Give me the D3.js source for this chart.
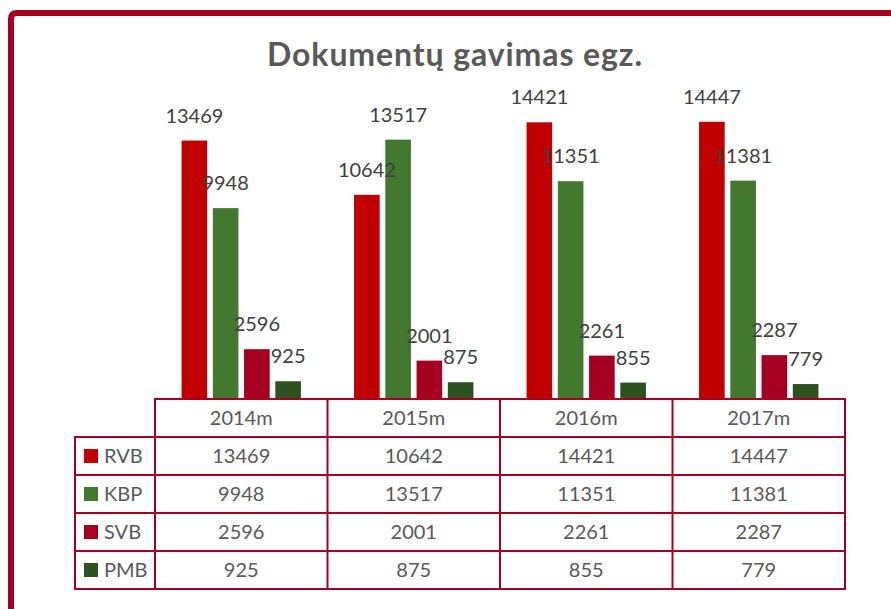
<!DOCTYPE html>
<html>
<head>
<meta charset="utf-8">
<script src="https://cdn.jsdelivr.net/npm/d3@7"></script>
<style>
  body { margin: 0; background: #fff; }
  text { font-family: Lato, "Open Sans", sans-serif; }
</style>
</head>
<body>
<div id="chart"></div>
<script>
const years = ["2014m", "2015m", "2016m", "2017m"];
const seriesNames = ["RVB", "KBP", "SVB", "PMB"];
const rvb = [13469, 10642, 14421, 14447];
const kbp = [9948, 13517, 11351, 11381];
const svb = [2596, 2001, 2261, 2287];
const pmb = [925, 875, 855, 779];
const colors = ["#C00000", "#43782F", "#A50021", "#2E5120"];

const values = [rvb, kbp, svb, pmb];
const width = 891, height = 609;
const dark = "#A50021";

const svg = d3.select("#chart").append("svg")
    .attr("width", width)
    .attr("height", height);

// frame: only top and left edges show
svg.append("path")
    .attr("d", "M11,609 V19 Q11,13 17,13 H891")
    .attr("fill", "none")
    .attr("stroke", dark)
    .attr("stroke-width", 6);

svg.append("text")
    .attr("x", 455)
    .attr("y", 66)
    .attr("text-anchor", "middle")
    .attr("font-size", 32)
    .attr("font-weight", "bold")
    .attr("letter-spacing", 0.9)
    .attr("fill", "#595959")
    .text("Dokumentų gavimas egz.");

const x0 = d3.scaleBand().domain(years).range([155, 845]);
const x1 = d3.scaleBand().domain(seriesNames).range([0, x0.bandwidth()])
    .paddingInner(0.18).paddingOuter(0.85);
const y = d3.scaleLinear().domain([0, 16000]).range([399, 92]);

const bars = [];
seriesNames.forEach((s, i) => {
    years.forEach((yr, j) => {
        bars.push({ series: s, year: yr, value: values[i][j], color: colors[i] });
    });
});

svg.append("g")
    .selectAll("rect")
    .data(bars)
    .enter().append("rect")
    .attr("x", d => x0(d.year) + x1(d.series))
    .attr("y", d => y(d.value))
    .attr("width", x1.bandwidth())
    .attr("height", d => y(0) - y(d.value))
    .attr("fill", d => d.color);

svg.append("g")
    .selectAll("text")
    .data(bars)
    .enter().append("text")
    .attr("x", d => x0(d.year) + x1(d.series) + x1.bandwidth() / 2)
    .attr("y", d => y(d.value) - 18)
    .attr("text-anchor", "middle")
    .attr("font-size", 20)
    .attr("fill", "#404040")
    .text(d => d.value);

// data table
const rowH = 38, tableTop = 399;
const tbl = svg.append("g");
const labelLeft = 75;

tbl.selectAll("text.yr")
    .data(years)
    .enter().append("text")
    .attr("x", d => x0(d) + x0.bandwidth() / 2)
    .attr("y", tableTop + rowH / 2 + 7)
    .attr("text-anchor", "middle")
    .attr("font-size", 20)
    .attr("fill", "#595959")
    .text(d => d);

seriesNames.forEach((s, i) => {
    const ry = tableTop + rowH * (i + 1);
    tbl.append("rect")
        .attr("x", 84).attr("y", ry + rowH / 2 - 7)
        .attr("width", 14).attr("height", 14)
        .attr("fill", colors[i]);
    tbl.append("text")
        .attr("x", 104).attr("y", ry + rowH / 2 + 7)
        .attr("font-size", 20)
        .attr("fill", "#595959")
        .text(s);
    tbl.selectAll(null)
        .data(values[i])
        .enter().append("text")
        .attr("x", (d, j) => x0(years[j]) + x0.bandwidth() / 2)
        .attr("y", ry + rowH / 2 + 7)
        .attr("text-anchor", "middle")
        .attr("font-size", 20)
        .attr("fill", "#595959")
        .text(d => d);
});

// grid lines
const lines = [];
lines.push([155, tableTop, 845, tableTop]);
for (let i = 1; i <= 5; i++) lines.push([labelLeft, tableTop + rowH * i, 845, tableTop + rowH * i]);
lines.push([labelLeft, tableTop + rowH, labelLeft, tableTop + rowH * 5]);
years.forEach(yr => lines.push([x0(yr), tableTop, x0(yr), tableTop + rowH * 5]));
lines.push([845, tableTop, 845, tableTop + rowH * 5]);

tbl.selectAll("line")
    .data(lines)
    .enter().append("line")
    .attr("x1", d => d[0]).attr("y1", d => d[1])
    .attr("x2", d => d[2]).attr("y2", d => d[3])
    .attr("stroke", dark)
    .attr("stroke-width", 2)
    .attr("stroke-linecap", "square");
</script>
</body>
</html>
